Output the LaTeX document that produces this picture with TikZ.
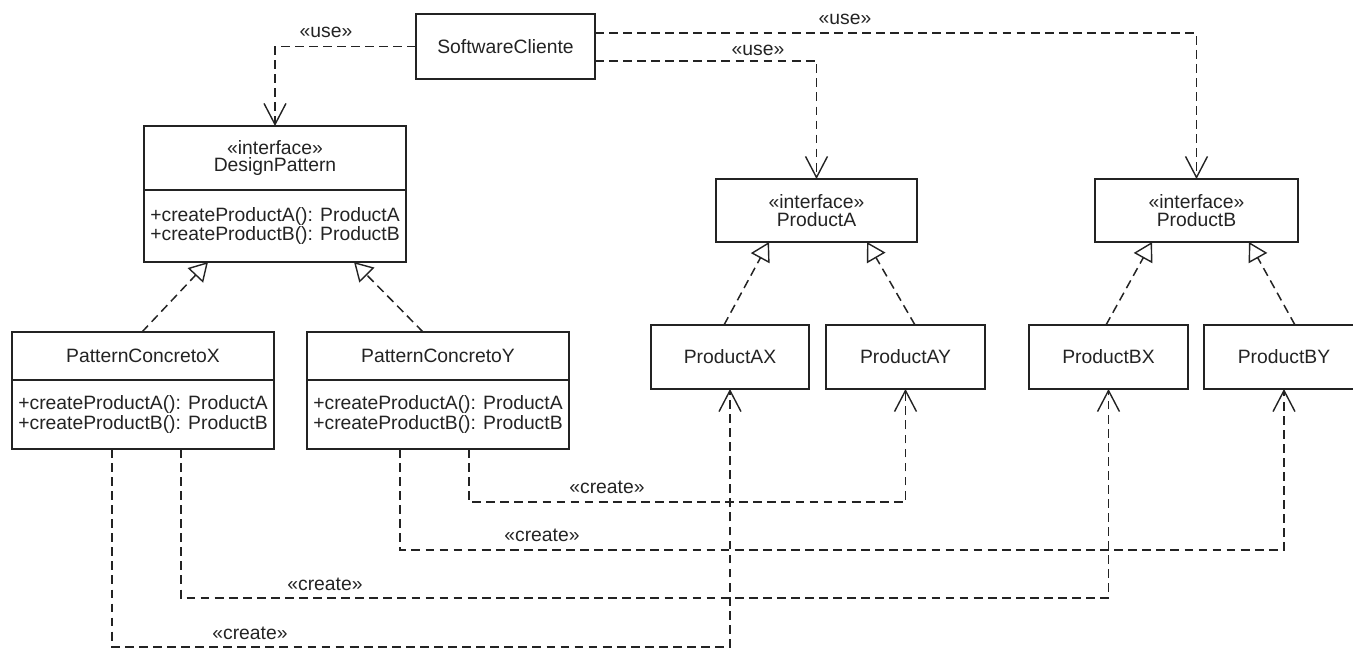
\documentclass[tikz,border=0pt]{standalone}
\usepackage{fontspec}
\setmainfont{Liberation Sans}
\usepackage{tikz}
\usetikzlibrary{arrows.meta,calc}
\definecolor{ink}{RGB}{35,35,35}
\tikzset{
  umlbox/.style={draw=ink, line width=0.9pt, inner sep=0pt, outer sep=0pt, text=ink,
    font=\fontsize{11pt}{10pt}\selectfont, align=center},
  opsbox/.style={umlbox, align=left},
  dep/.style={draw=ink, line width=0.85pt, dash pattern=on 5pt off 3pt,
    -{Straight Barb[length=12pt,width=12.5pt,line width=0.8pt]}},
  realize/.style={draw=ink, line width=0.85pt, dash pattern=on 5pt off 3pt,
    -{Triangle[open,length=10.5pt,width=12pt,line width=0.8pt]}},
  stereo/.style={text=ink, font=\fontsize{11pt}{10pt}\selectfont, inner sep=0pt}
}
\newcommand{\usetag}{«use»}
\newcommand{\createtag}{«create»}
\begin{document}
\begin{tikzpicture}[x=0.02cm,y=-0.02cm]
\useasboundingbox (0,0) rectangle (1353,648);
\node[umlbox, minimum width=3.58cm, minimum height=1.3cm] (sc) at (505.5,46.5) {SoftwareCliente};
\node[umlbox, minimum width=5.24cm, minimum height=1.28cm] (dp) at (275,158) {«interface»\\DesignPattern};
\node[opsbox, minimum width=5.24cm, minimum height=1.44cm] (dpm) at (275,226) {+createProductA(): ProductA\\+createProductB(): ProductB};
\node[umlbox, minimum width=5.24cm, minimum height=0.96cm] (pcx) at (143,356) {PatternConcretoX};
\node[opsbox, minimum width=5.24cm, minimum height=1.38cm] (pcxm) at (143,414.5) {+createProductA(): ProductA\\+createProductB(): ProductB};
\node[umlbox, minimum width=5.24cm, minimum height=0.96cm] (pcy) at (438,356) {PatternConcretoY};
\node[opsbox, minimum width=5.24cm, minimum height=1.38cm] (pcym) at (438,414.5) {+createProductA(): ProductA\\+createProductB(): ProductB};
\node[umlbox, minimum width=4.02cm, minimum height=1.26cm] (pa) at (816.5,210.5) {«interface»\\ProductA};
\node[umlbox, minimum width=4.06cm, minimum height=1.26cm] (pb) at (1196.5,210.5) {«interface»\\ProductB};
\node[umlbox, minimum width=3.16cm, minimum height=1.28cm] (pax) at (730,357) {ProductAX};
\node[umlbox, minimum width=3.18cm, minimum height=1.28cm] (pay) at (905.5,357) {ProductAY};
\node[umlbox, minimum width=3.18cm, minimum height=1.28cm] (pbx) at (1108.5,357) {ProductBX};
\node[umlbox, minimum width=3.2cm, minimum height=1.28cm] (pby) at (1284,357) {ProductBY};

\draw[dep] (sc.west) -| (dp.north);
\draw[dep] ($(sc.east)+(0,14.5)$) -| (pa.north);
\draw[dep] ($(sc.east)+(0,-13.5)$) -| (pb.north);
\node[stereo] (use1) at (326,32) {\usetag};
\node[stereo] (use2) at (758,50) {\usetag};
\node[stereo] (use3) at (845,19) {\usetag};

\draw[realize] ($(pcx.north)+(-1,0)$) -- ($(dpm.south)+(-67,0)$);
\draw[realize] ($(pcy.north)+(-15,0)$) -- ($(dpm.south)+(79,0)$);
\draw[realize] ($(pax.north)+(-6,0)$) -- ($(pa.south)+(-47.5,0)$);
\draw[realize] ($(pay.north)+(9.5,0)$) -- ($(pa.south)+(50.5,0)$);
\draw[realize] ($(pbx.north)+(-2.5,0)$) -- ($(pb.south)+(-44.5,0)$);
\draw[realize] ($(pby.north)+(11,0)$) -- ($(pb.south)+(52.5,0)$);

\draw[dep] ($(pcxm.south)+(-31,0)$) -- ++(0,198) -| (pax.south);
\draw[dep] ($(pcxm.south)+(38,0)$) -- ++(0,149) -| (pbx.south);
\draw[dep] ($(pcym.south)+(-38,0)$) -- ++(0,101) -| (pby.south);
\draw[dep] ($(pcym.south)+(31,0)$) -- ++(0,53) -| (pay.south);
\node[stereo] (cr1) at (607,487) {\createtag};
\node[stereo] (cr2) at (542,535) {\createtag};
\node[stereo] (cr3) at (325,584) {\createtag};
\node[stereo] (cr4) at (250,633) {\createtag};
\end{tikzpicture}
\end{document}
